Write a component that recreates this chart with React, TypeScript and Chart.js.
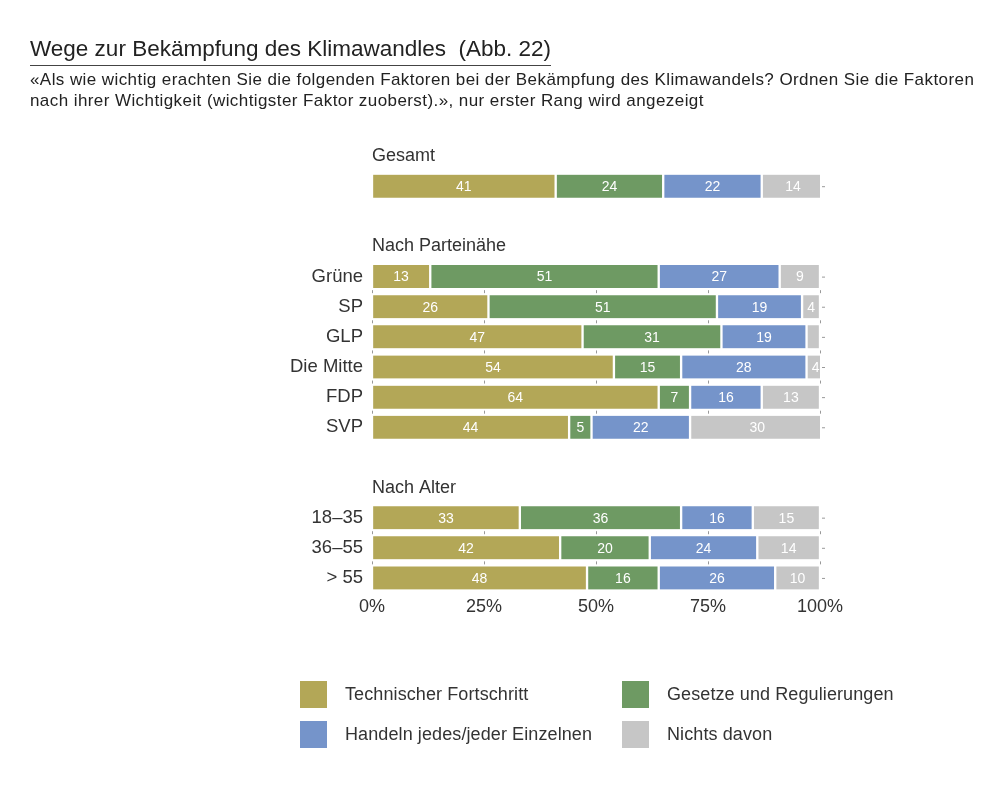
import React, { useEffect, useRef } from 'react';
import { Chart, registerables } from 'chart.js';

Chart.register(...registerables);

const FONT = '"Liberation Sans", Arial, sans-serif';

// 15 rows: header rows, bar rows and spacer rows
const rowLabels = ['', '', '', '', 'Grüne', 'SP', 'GLP', 'Die Mitte', 'FDP', 'SVP', '', '', '18–35', '36–55', '> 55'];
const headerLabels = ['Gesamt', '', '', 'Nach Parteinähe', '', '', '', '', '', '', '', 'Nach Alter', '', '', ''];

const seriesNames = ['Technischer Fortschritt', 'Gesetze und Regulierungen', 'Handeln jedes/jeder Einzelnen', 'Nichts davon'];
const seriesColors = ['#B3A757', '#6E9A63', '#7594CA', '#C6C6C6'];

const technik = [null, 41, null, null, 13, 26, 47, 54, 64, 44, null, null, 33, 42, 48];
const gesetze = [null, 24, null, null, 51, 51, 31, 15, 7, 5, null, null, 36, 20, 16];
const handeln = [null, 22, null, null, 27, 19, 19, 28, 16, 22, null, null, 16, 24, 26];
const nichts = [null, 14, null, null, 9, 4, 3, 4, 13, 30, null, null, 15, 14, 10];

const xTicks = [0, 25, 50, 75, 100];

const decorPlugin = {
  id: 'decor',
  afterDatasetsDraw(chart: any) {
    const { ctx, chartArea, scales } = chart;
    const x = scales.x;
    const y = scales.y;
    ctx.save();
    // headers
    ctx.font = `18px ${FONT}`;
    ctx.fillStyle = '#333';
    ctx.textAlign = 'left';
    ctx.textBaseline = 'middle';
    headerLabels.forEach((h, i) => {
      if (h) ctx.fillText(h, chartArea.left, y.getPixelForValue(i));
    });
    // value labels
    ctx.font = `14px ${FONT}`;
    ctx.fillStyle = '#fff';
    ctx.textAlign = 'center';
    chart.data.datasets.forEach((ds: any, di: number) => {
      const meta = chart.getDatasetMeta(di);
      meta.data.forEach((el: any, i: number) => {
        const v = ds.data[i];
        if (v == null || v < 4) return;
        ctx.fillText(String(v), (el.x + el.base) / 2, el.y + 1);
      });
    });
    // small tick marks
    ctx.strokeStyle = '#999';
    ctx.lineWidth = 1;
    const hasBar = (i: number) => technik[i] != null;
    for (let i = 0; i < rowLabels.length; i++) {
      if (!hasBar(i)) continue;
      const yc = y.getPixelForValue(i);
      ctx.beginPath();
      ctx.moveTo(chartArea.right + 2, yc + 0.5);
      ctx.lineTo(chartArea.right + 5, yc + 0.5);
      ctx.stroke();
      if (i + 1 < rowLabels.length && hasBar(i + 1)) {
        const ym = (yc + y.getPixelForValue(i + 1)) / 2;
        xTicks.forEach((t) => {
          const px = Math.round(x.getPixelForValue(t)) + 0.5;
          ctx.beginPath();
          ctx.moveTo(px, ym - 1.5);
          ctx.lineTo(px, ym + 1.5);
          ctx.stroke();
        });
      }
    }
    ctx.restore();
  },
};

export default function App() {
  const ref = useRef<HTMLCanvasElement>(null);
  useEffect(() => {
    const series = [technik, gesetze, handeln, nichts];
    const chart = new Chart(ref.current!, {
      type: 'bar',
      data: {
        labels: rowLabels,
        datasets: series.map((d, i) => ({
          label: seriesNames[i],
          data: d,
          backgroundColor: seriesColors[i],
          borderColor: '#ffffff',
          borderWidth: { left: 1.5, right: 1.5, top: 0, bottom: 0 },
          borderSkipped: false,
          barThickness: 23,
        })),
      },
      options: {
        indexAxis: 'y',
        responsive: false,
        animation: false,
        layout: { padding: { top: 141, right: 180, bottom: 167, left: 0 } },
        plugins: { legend: { display: false }, tooltip: { enabled: false } },
        scales: {
          x: {
            stacked: true,
            min: 0,
            max: 100,
            afterFit: (s: any) => { s.height = 30; },
            afterBuildTicks: (s: any) => { s.ticks = xTicks.map((v) => ({ value: v })); },
            ticks: {
              callback: (v: any) => `${v}%`,
              font: { family: FONT, size: 18 },
              color: '#333',
              padding: 3,
              maxRotation: 0,
            },
            grid: { display: false, drawTicks: false, tickLength: 0 },
            border: { display: false },
          },
          y: {
            stacked: true,
            afterFit: (s: any) => { s.width = 372; },
            ticks: {
              callback: (_v: any, i: number) => rowLabels[i],
              font: { family: FONT, size: 18.5 },
              color: '#333',
              padding: 9,
              autoSkip: false,
            },
            grid: { display: false, drawTicks: false, tickLength: 0 },
            border: { display: false },
          },
        },
      },
      plugins: [decorPlugin],
    });
    return () => chart.destroy();
  }, []);

  const legendItem = (i: number, left: number, top: number) => (
    <div key={i} style={{ position: 'absolute', left, top, display: 'flex', alignItems: 'center', height: 27 }}>
      <div style={{ width: 27, height: 27, background: seriesColors[i] }} />
      <span style={{ marginLeft: 18, fontSize: 18, letterSpacing: 0.1, color: '#333', whiteSpace: 'nowrap' }}>{seriesNames[i]}</span>
    </div>
  );

  return (
    <div style={{ position: 'absolute', left: 0, top: 0, width: 1000, height: 790, background: '#fff', fontFamily: FONT, color: '#222' }}>
      <canvas ref={ref} width={1000} height={790} style={{ position: 'absolute', left: 0, top: 0 }} />
      <div style={{ position: 'absolute', left: 30, top: 36, fontSize: 22.5, lineHeight: '26px', borderBottom: '1px solid #444', paddingBottom: 3, whiteSpace: 'nowrap' }}>
        Wege zur Bekämpfung des Klimawandles&nbsp; (Abb. 22)
      </div>
      <div style={{ position: 'absolute', left: 30, top: 69, fontSize: 17, letterSpacing: 0.42, lineHeight: '21px', whiteSpace: 'nowrap' }}>
        «Als wie wichtig erachten Sie die folgenden Faktoren bei der Bekämpfung des Klimawandels? Ordnen Sie die Faktoren
        <br />
        nach ihrer Wichtigkeit (wichtigster Faktor zuoberst).», nur erster Rang wird angezeigt
      </div>
      {legendItem(0, 300, 681)}
      {legendItem(1, 622, 681)}
      {legendItem(2, 300, 721)}
      {legendItem(3, 622, 721)}
    </div>
  );
}
